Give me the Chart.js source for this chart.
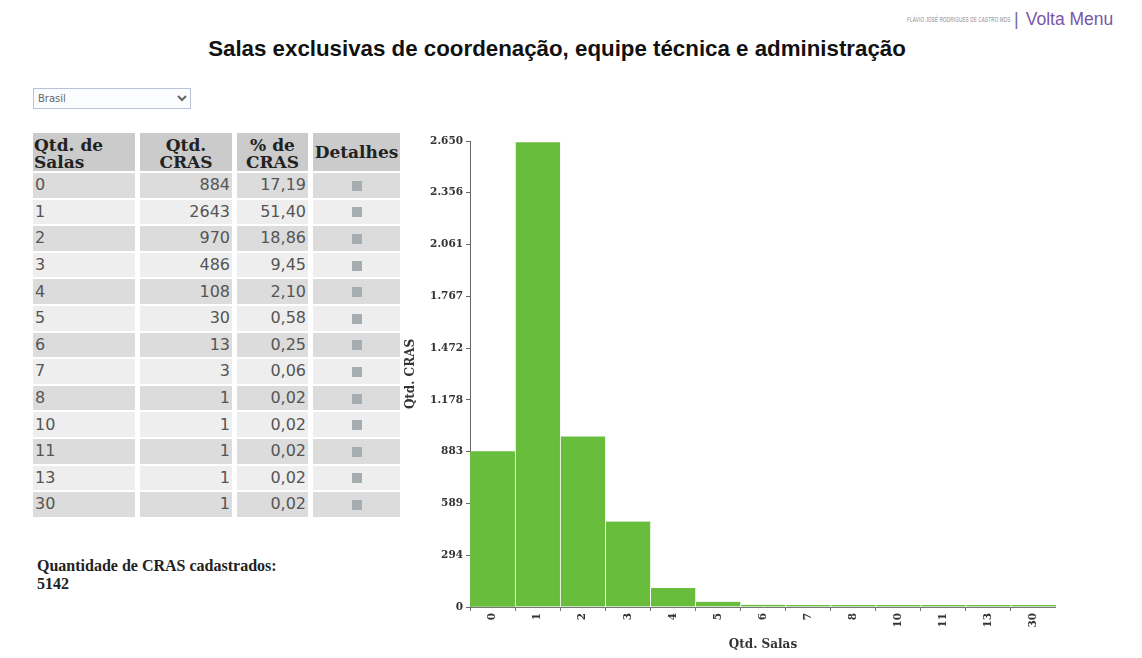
<!DOCTYPE html>
<html lang="pt-BR">
<head>
<meta charset="utf-8">
<title>Salas exclusivas de coordenação, equipe técnica e administração</title>
<script src="https://cdn.jsdelivr.net/npm/chart.js@4.4.1/dist/chart.umd.min.js"></script>
<style>
  html, body { margin: 0; padding: 0; background: #fff; }
  body { width: 1142px; height: 658px; position: relative; overflow: hidden; font-family: "DejaVu Sans", Verdana, sans-serif; }
  #topo { position: absolute; left: 907px; top: 9px; font-family: "Liberation Sans", Arial, sans-serif; color: #888; white-space: nowrap; }
  #topo .autor { display: inline-block; font-size: 7px; letter-spacing: 0.2px; transform: scaleX(0.66); transform-origin: left center; width: 104px; vertical-align: middle; }
  #topo .sep { font-size: 18px; color: #7466b0; margin: 0 7px 0 3px; vertical-align: middle; }
  #topo a { font-size: 17.5px; color: #7a56a8; text-decoration: none; vertical-align: middle; }
  h1 { position: absolute; left: 0; width: 1114px; top: 36px; margin: 0; text-align: center;
       font: bold 22.3px "Liberation Sans", Arial, sans-serif; color: #111; }
  #local { position: absolute; left: 33px; top: 88px; width: 158px; height: 21px; font-size: 10px;
           font-family: "DejaVu Sans", sans-serif; color: #666; border: 1px solid #b8c2d8; background: #fbfcfe; }
  table { position: absolute; left: 28px; top: 131px; border-collapse: separate; border-spacing: 5px 2px; }
  th { background: #cbcbcb; font: bold 17px/17px "DejaVu Serif", serif; color: #222; height: 38px; padding: 0 1px; vertical-align: bottom; text-align: left; }
  th.c { text-align: center; }
  th.m { vertical-align: middle; text-align: center; }
  td { font-size: 16px; color: #555; height: 24.6px; padding: 0 2px; line-height: 24px; }
  tr.a td { background: #dcdcdc; }
  tr.b td { background: #eeeeee; }
  td.n { text-align: right; }
  td.d { text-align: center; }
  td.d span { display: inline-block; width: 10px; height: 10px; background: #a5adb0; vertical-align: middle; }
  #total { position: absolute; left: 37px; top: 557px; font: bold 16px/18px "Liberation Serif", serif; color: #222; }
  #grafico { position: absolute; left: 400px; top: 125px; width: 656px; height: 530px; }
</style>
</head>
<body>
<div id="topo"><span class="autor">FLÁVIO JOSÉ RODRIGUES DE CASTRO MDS</span><span class="sep">|</span><a href="#">Volta Menu</a></div>
<h1>Salas exclusivas de coordenação, equipe técnica e administração</h1>
<select id="local"><option>Brasil</option></select>
<table id="tabela">
  <thead>
    <tr>
      <th style="width:100px">Qtd. de<br>Salas</th>
      <th class="c" style="width:90px">Qtd.<br>CRAS</th>
      <th class="c" style="width:69px">% de<br>CRAS</th>
      <th class="m" style="width:85px">Detalhes</th>
    </tr>
  </thead>
  <tbody></tbody>
</table>
<div id="total"></div>
<div id="grafico"><canvas id="barras"></canvas></div>
<script>
// Quantidade de salas exclusivas por CRAS
const salas = ["0", "1", "2", "3", "4", "5", "6", "7", "8", "10", "11", "13", "30"];
const qtdCras = [884, 2643, 970, 486, 108, 30, 13, 3, 1, 1, 1, 1, 1];
const pctCras = ["17,19", "51,40", "18,86", "9,45", "2,10", "0,58", "0,25", "0,06", "0,02", "0,02", "0,02", "0,02", "0,02"];
const totalCras = 5142;
const yTicks = [0, 294, 589, 883, 1178, 1472, 1767, 2061, 2356, 2650];

// Tabela de frequências
const corpo = document.querySelector('#tabela tbody');
salas.forEach((s, i) => {
  const tr = document.createElement('tr');
  tr.className = i % 2 === 0 ? 'a' : 'b';
  tr.innerHTML = '<td>' + s + '</td><td class="n">' + qtdCras[i] + '</td><td class="n">' +
    pctCras[i] + '</td><td class="d"><span></span></td>';
  corpo.appendChild(tr);
});
document.getElementById('total').innerHTML = 'Quantidade de CRAS cadastrados:<br>' + totalCras;

const fmt = new Intl.NumberFormat('pt-BR');
const fonteEixo = { family: 'DejaVu Serif', size: 10.5, weight: 'bold' };
const fonteTitulo = { family: 'DejaVu Serif', size: 12, weight: 'bold' };

new Chart(document.getElementById('barras'), {
  type: 'bar',
  data: {
    labels: salas,
    datasets: [{
      label: 'Qtd. CRAS',
      data: qtdCras,
      backgroundColor: '#68bd3c',
      borderColor: '#ffffff',
      borderWidth: (ctx) => ({ left: ctx.dataIndex === 0 ? 0 : 1, right: 0, top: 0, bottom: 0 }),
      borderSkipped: false,
      barPercentage: 1,
      categoryPercentage: 1,
      minBarLength: 2
    }]
  },
  options: {
    responsive: true,
    maintainAspectRatio: false,
    animation: false,
    layout: { padding: { top: 16, right: 0, bottom: 0, left: 0 } },
    plugins: { legend: { display: false }, tooltip: { enabled: false } },
    scales: {
      x: {
        grid: { drawOnChartArea: false, drawTicks: true, tickLength: 4, color: '#777' },
        border: { color: '#777', width: 1 },
        ticks: { autoSkip: false, minRotation: 90, maxRotation: 90, padding: 2, color: '#333', font: fonteEixo },
        title: { display: true, text: 'Qtd. Salas', color: '#333', padding: { top: 0, bottom: 3 }, font: fonteTitulo },
        afterFit: (scale) => { scale.height = 48; }
      },
      y: {
        min: 0,
        max: 2650,
        afterBuildTicks: (scale) => { scale.ticks = yTicks.map(v => ({ value: v })); },
        grid: { drawOnChartArea: false, drawTicks: true, tickLength: 4, color: '#666' },
        border: { color: '#666', width: 1 },
        ticks: { padding: 3, color: '#333', font: fonteEixo, callback: (v) => fmt.format(v) },
        title: { display: true, text: 'Qtd. CRAS', color: '#333', padding: { top: 4, bottom: 0 }, font: fonteTitulo },
        afterFit: (scale) => { scale.width = 70; }
      }
    }
  }
});
</script>
</body>
</html>
